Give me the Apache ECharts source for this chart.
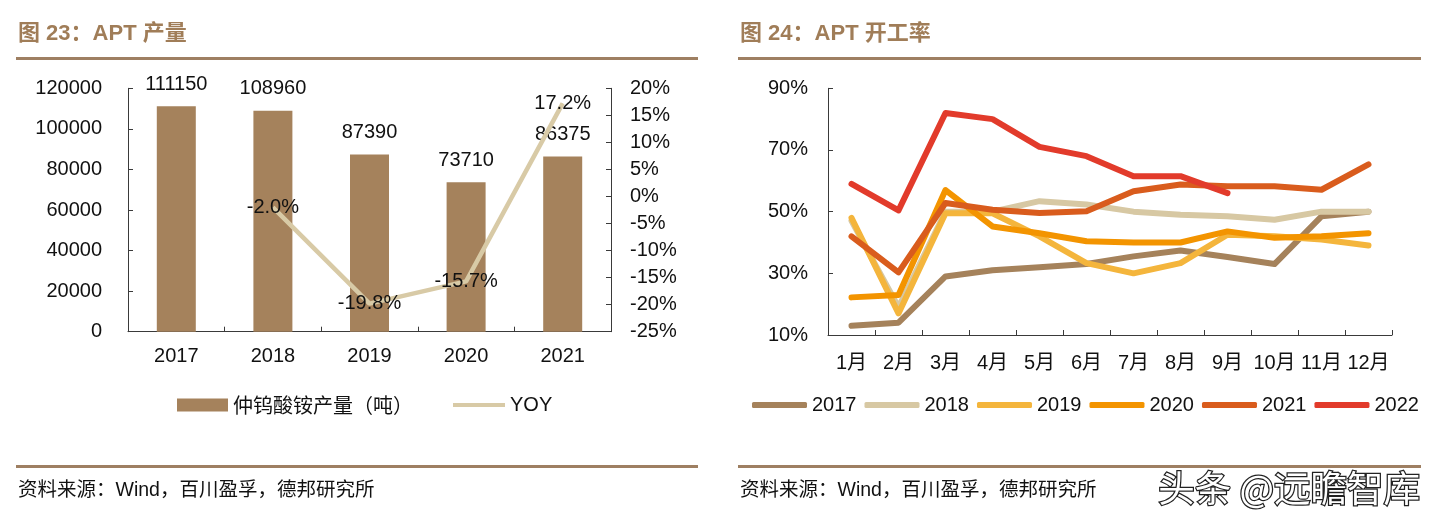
<!DOCTYPE html>
<html>
<head>
<meta charset="utf-8">
<script src="https://cdn.jsdelivr.net/npm/echarts@6/dist/echarts.min.js"></script>
<style>
html,body{margin:0;padding:0;background:#fff;}
#c{width:1433px;height:518px;}
</style>
</head>
<body>
<div id="c"></div>
<script>
// ---- Data: Figure 23 (APT output) ----
const years = ['2017', '2018', '2019', '2020', '2021'];
const aptOutput = [111150, 108960, 87390, 73710, 86375];
const aptYoy = [null, -2.0, -19.8, -15.7, 17.2];

// ---- Data: Figure 24 (APT operating rate, %) ----
const months = ['1月','2月','3月','4月','5月','6月','7月','8月','9月','10月','11月','12月'];
const rateYears = ['2017','2018','2019','2020','2021','2022'];
const rate2017 = [13, 14, 29, 31, 32, 33, 35.5, 37.4, 35.3, 33, 48.5, 50];
const rate2018 = [47, 19, 50, 50, 53.4, 52.3, 50, 49, 48.5, 47.4, 50, 50];
const rate2019 = [48, 17, 49.5, 49.5, 42, 33.3, 30, 33.3, 42.5, 42, 41, 39];
const rate2020 = [22.2, 23, 57, 45.2, 43, 40.4, 40, 40, 43.6, 41.5, 42, 43];
const rate2021 = [42, 30.3, 52.8, 50.6, 49.6, 50.1, 56.6, 58.8, 58.2, 58.2, 57.1, 65.3];
const rate2022 = [59, 50.4, 82, 80, 71, 68, 61.5, 61.5, 56];
const rateSeries = [rate2017, rate2018, rate2019, rate2020, rate2021, rate2022];

const titleLeft = '图 23：APT 产量';
const titleRight = '图 24：APT 开工率';
const sourceText = '资料来源：Wind，百川盈孚，德邦研究所';
const watermark = '头条 @远瞻智库';

const FONT = '"Liberation Sans", Arial, "Noto Sans CJK SC", sans-serif';
const CJK = '"Noto Sans CJK SC", sans-serif';
const brown = '#A07D58';
const rateColors = ['#A5825B', '#D7C8A3', '#F4B53C', '#F39400', '#D95C1D', '#E23B2B'];

const chart = echarts.init(document.getElementById('c'), null, {renderer: 'canvas'});

const axisLine = {show: true, lineStyle: {color: '#3a3a3a', width: 1}};
const lbl = {color: '#111', fontSize: 20, fontFamily: FONT};

const option = {
  animation: false,
  backgroundColor: '#fff',
  grid: [
    {left: 128, top: 88.3, width: 483, height: 243.4},
    {left: 828, top: 88.3, width: 564, height: 246.7}
  ],
  xAxis: [
    {type: 'category', gridIndex: 0, data: years, boundaryGap: true,
     axisLine: axisLine, axisTick: {show: true, inside: true, length: 5, lineStyle: {color: '#3a3a3a'}},
     axisLabel: Object.assign({margin: 15}, lbl), splitLine: {show: false}},
    {type: 'category', gridIndex: 1, data: months, boundaryGap: true,
     axisLine: axisLine, axisTick: {show: true, inside: true, length: 5, lineStyle: {color: '#3a3a3a'}},
     axisLabel: Object.assign({margin: 18, interval: 0}, lbl), splitLine: {show: false}}
  ],
  yAxis: [
    {type: 'value', gridIndex: 0, min: 0, max: 120000, interval: 20000,
     axisLine: axisLine, axisTick: {show: true, inside: true, length: 5, lineStyle: {color: '#3a3a3a'}},
     axisLabel: Object.assign({margin: 26, formatter: v => String(v)}, lbl), splitLine: {show: false}},
    {type: 'value', gridIndex: 0, position: 'right', min: -25, max: 20, interval: 5,
     axisLine: axisLine, axisTick: {show: true, inside: true, length: 5, lineStyle: {color: '#3a3a3a'}},
     axisLabel: Object.assign({margin: 19, formatter: '{value}%'}, lbl), splitLine: {show: false}},
    {type: 'value', gridIndex: 1, min: 10, max: 90, interval: 20,
     axisLine: axisLine, axisTick: {show: true, inside: true, length: 5, lineStyle: {color: '#3a3a3a'}},
     axisLabel: Object.assign({margin: 20, formatter: '{value}%'}, lbl), splitLine: {show: false}}
  ],
  legend: [
    {data: ['仲钨酸铵产量（吨）'], left: 172, top: 390, itemWidth: 51, itemHeight: 13, icon: 'rect',
     selectedMode: false, textStyle: {fontSize: 20, color: '#111', fontFamily: CJK}},
    {data: ['YOY'], left: 448, top: 390, itemWidth: 52, itemHeight: 4, icon: 'rect',
     selectedMode: false, textStyle: {fontSize: 20, color: '#111', fontFamily: FONT}},
    {data: rateYears, left: 747, top: 390, itemWidth: 55, itemHeight: 6, icon: 'roundRect', itemGap: 8,
     selectedMode: false, textStyle: {fontSize: 20, color: '#111', fontFamily: FONT}}
  ],
  series: [
    {name: '仲钨酸铵产量（吨）', type: 'bar', xAxisIndex: 0, yAxisIndex: 0, data: aptOutput,
     barWidth: 39, itemStyle: {color: '#A5825C'},
     label: {show: true, position: 'top', distance: 12, color: '#111', fontSize: 20, fontFamily: FONT}},
    {name: 'YOY', type: 'line', xAxisIndex: 0, yAxisIndex: 1, data: aptYoy,
     symbol: 'circle', symbolSize: 1, showSymbol: true, connectNulls: false,
     lineStyle: {color: '#D8CAA6', width: 4.5}, itemStyle: {color: '#D8CAA6'},
     label: {show: true, position: 'inside', color: '#111', fontSize: 20, fontFamily: FONT,
       formatter: p => p.value == null ? '' : p.value.toFixed(1) + '%'}}
  ].concat(rateYears.map((y, i) => ({
    name: y, type: 'line', xAxisIndex: 1, yAxisIndex: 2, data: rateSeries[i],
    showSymbol: false, symbol: 'none',
    lineStyle: {color: rateColors[i], width: 6, cap: 'round', join: 'round'},
    itemStyle: {color: rateColors[i]}
  }))),
  graphic: [
    {type: 'text', left: 18, top: 23, style: {text: titleLeft, fill: brown, fontSize: 22, fontWeight: 'bold', fontFamily: '"Liberation Sans", "Noto Sans CJK SC", sans-serif'}},
    {type: 'text', left: 740, top: 23, style: {text: titleRight, fill: brown, fontSize: 22, fontWeight: 'bold', fontFamily: '"Liberation Sans", "Noto Sans CJK SC", sans-serif'}},
    {type: 'rect', shape: {x: 16, y: 57, width: 682, height: 3}, style: {fill: '#9E7F62'}},
    {type: 'rect', shape: {x: 738, y: 57, width: 683, height: 3}, style: {fill: '#9E7F62'}},
    {type: 'rect', shape: {x: 16, y: 465, width: 682, height: 3}, style: {fill: '#9E7F62'}},
    {type: 'rect', shape: {x: 738, y: 465, width: 683, height: 3}, style: {fill: '#9E7F62'}},
    {type: 'text', left: 18, top: 481, style: {text: sourceText, fill: '#111', fontSize: 19.5, fontFamily: '"Liberation Sans", "Noto Sans CJK SC", sans-serif'}},
    {type: 'text', left: 740, top: 481, style: {text: sourceText, fill: '#111', fontSize: 19.5, fontFamily: '"Liberation Sans", "Noto Sans CJK SC", sans-serif'}},
    {type: 'text', left: 1157, top: 469, z: 100, style: {text: watermark, fill: '#ffffff', stroke: '#222', lineWidth: 2.5, fontSize: 36.5, fontFamily: CJK}}
  ]
};
chart.setOption(option);
</script>
</body>
</html>
